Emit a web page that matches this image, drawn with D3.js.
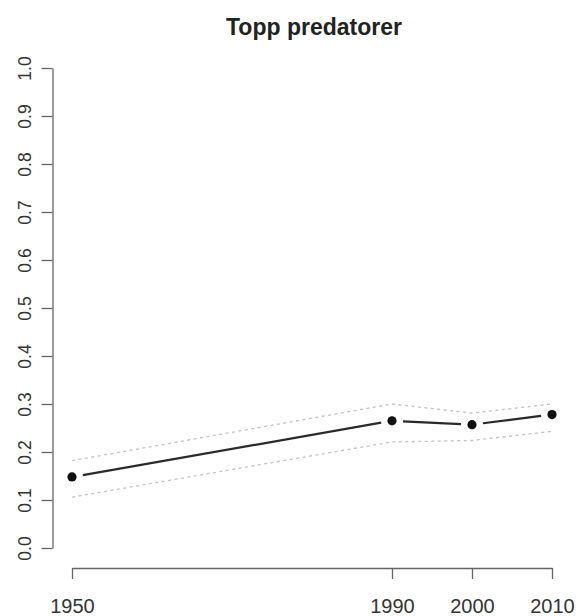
<!DOCTYPE html>
<html><head><meta charset="utf-8">
<script src="https://cdn.jsdelivr.net/npm/d3@7"></script>
<style>body{margin:0;background:#fff}svg{display:block}</style>
</head><body>
<script>
const years = [1950, 1990, 2000, 2010];
const values = [0.148, 0.265, 0.257, 0.278];
const upper = [0.182, 0.300, 0.281, 0.300];
const lower = [0.106, 0.221, 0.224, 0.243];
const yTicks = [0, 0.1, 0.2, 0.3, 0.4, 0.5, 0.6, 0.7, 0.8, 0.9, 1.0];
const title = "Topp predatorer";

const W = 578, H = 616;
const font = "Liberation Sans, Arial, sans-serif";
const svg = d3.select("body").append("svg").attr("width", W).attr("height", H);
const x = d3.scaleLinear().domain([1950, 2010]).range([72, 552]);
const y = d3.scaleLinear().domain([0, 1]).range([548, 68]);
const axisCol = "#666", textCol = "#333";

// title
svg.append("text").attr("x", 314).attr("y", 35).attr("text-anchor", "middle")
  .attr("font-family", font).attr("font-weight", "bold")
  .attr("font-size", 23).attr("fill", "#222").text(title);

// y axis
const yAxis = svg.append("g").attr("transform", "translate(52.5,0)")
  .call(d3.axisLeft(y).tickValues(yTicks).tickFormat(d3.format(".1f")).tickSize(11).tickSizeOuter(0));
yAxis.select(".domain").attr("stroke", axisCol).attr("stroke-width", 1.3);
yAxis.selectAll(".tick line").attr("stroke", axisCol).attr("stroke-width", 1.3);
yAxis.selectAll(".tick text").each(function(){
  d3.select(this).attr("x", null).attr("y", null).attr("dy", null)
    .attr("font-family", font).attr("font-size", 17.5).attr("fill", textCol)
    .attr("text-anchor", "middle")
    .attr("transform", "translate(-27.5,0) rotate(-90) translate(0,6.2)");
});

// x axis
const xAxis = svg.append("g").attr("transform", "translate(0,568)")
  .call(d3.axisBottom(x).tickValues(years).tickFormat(d3.format("d")).tickSize(11).tickSizeOuter(0));
xAxis.select(".domain").attr("stroke", axisCol).attr("stroke-width", 1.3);
xAxis.selectAll(".tick line").attr("stroke", axisCol).attr("stroke-width", 1.3);
xAxis.selectAll(".tick text").attr("font-family", font)
  .attr("font-size", 20).attr("fill", textCol).attr("y", 45).attr("dy", null);

// confidence band (dashed)
const dl = d3.line().x((d, i) => x(years[i])).y(d => y(d));
[upper, lower].forEach(arr => {
  svg.append("path").attr("d", dl(arr)).attr("fill", "none")
    .attr("stroke", "#c2c2c2").attr("stroke-width", 1.3).attr("stroke-dasharray", "3,3.5");
});

// main line with gaps (type "b")
const gap = 11;
for (let i = 0; i < years.length - 1; i++) {
  const x1 = x(years[i]), y1 = y(values[i]), x2 = x(years[i+1]), y2 = y(values[i+1]);
  const len = Math.hypot(x2 - x1, y2 - y1), ux = (x2 - x1) / len, uy = (y2 - y1) / len;
  svg.append("line").attr("x1", x1 + ux*gap).attr("y1", y1 + uy*gap)
    .attr("x2", x2 - ux*gap).attr("y2", y2 - uy*gap)
    .attr("stroke", "#2a2a2a").attr("stroke-width", 2.2);
}
svg.selectAll("circle.pt").data(values).enter().append("circle")
  .attr("cx", (d, i) => x(years[i])).attr("cy", d => y(d)).attr("r", 4.6).attr("fill", "#111");
</script>
</body></html>
